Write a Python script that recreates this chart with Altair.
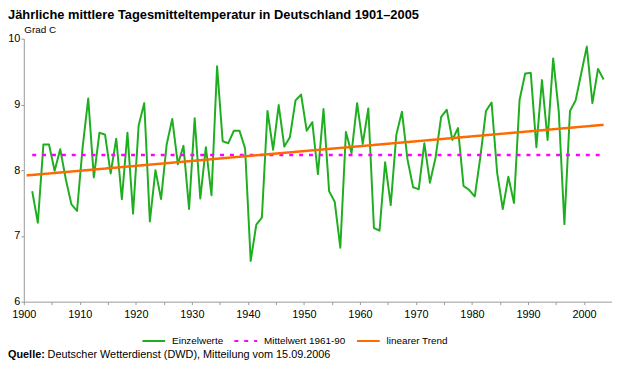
import altair as alt
import pandas as pd

TITLE = "Jährliche mittlere Tagesmitteltemperatur in Deutschland 1901–2005"
UNIT = "Grad C"
SOURCE_BOLD = "Quelle:"
SOURCE_TEXT = "Deutscher Wetterdienst (DWD), Mitteilung vom 15.09.2006"

SERIES = ["Einzelwerte", "Mittelwert 1961-90", "linearer Trend"]
COLORS = ["#1fae1f", "#ff00ff", "#ff6a00"]

YEARS = list(range(1901, 2004))
TEMPS = [
    7.68, 7.20, 8.39, 8.39, 7.99, 8.32, 7.86, 7.48, 7.38, 8.35,
    9.09, 7.89, 8.57, 8.54, 7.95, 8.48, 7.56, 8.57, 7.34, 8.68,
    9.02, 7.22, 8.00, 7.56, 8.39, 8.78, 8.09, 8.37, 7.41, 8.79,
    7.57, 8.35, 7.62, 9.58, 8.44, 8.41, 8.60, 8.60, 8.33, 6.62,
    7.17, 7.28, 8.90, 8.31, 8.99, 8.36, 8.50, 9.06, 9.15, 8.60,
    8.73, 7.94, 8.93, 7.68, 7.52, 6.82, 8.58, 8.26, 9.02, 8.40,
    8.94, 7.12, 7.08, 8.12, 7.47, 8.54, 8.89, 8.16, 7.74, 7.71,
    8.41, 7.81, 8.19, 8.81, 8.92, 8.46, 8.64, 7.76, 7.70, 7.60,
    8.20, 8.90, 9.03, 7.96, 7.41, 7.90, 7.50, 9.07, 9.47, 9.48,
    8.35, 9.37, 8.46, 9.70, 8.89, 7.18, 8.90, 9.06, 9.47, 9.88,
    9.02, 9.54, 9.38,
]

MEAN_YEARS = [1901, 2003]
MEAN_6190 = 8.23

TREND_YEARS = [1900, 2003]
TREND_TEMPS = [7.92, 8.69]

Y_TICKS = [6, 7, 8, 9, 10]
X_TICKS = list(range(1900, 2001, 5))

FONT = "Liberation Sans"

df_main = pd.DataFrame({"year": YEARS, "temp": TEMPS, "series": SERIES[0]})
df_mean = pd.DataFrame({"year": MEAN_YEARS, "temp": [MEAN_6190] * len(MEAN_YEARS), "series": SERIES[1]})
df_trend = pd.DataFrame({"year": TREND_YEARS, "temp": TREND_TEMPS, "series": SERIES[2]})

color_scale = alt.Scale(domain=SERIES, range=COLORS)
dash_scale = alt.Scale(domain=SERIES, range=[[1, 0], [4, 6], [1, 0]])

legend = alt.Legend(
    title=None,
    orient="none",
    legendX=119,
    legendY=293,
    direction="horizontal",
    symbolType="stroke",
    symbolSize=529,
    symbolStrokeWidth=2,
    labelFontSize=10,
    labelFont=FONT,
    labelColor="#000000",
    labelOffset=6,
    columnPadding=7,
    padding=0,
)

x_enc = alt.X(
    "xpos:Q",
    scale=alt.Scale(domain=[1900, 2005], nice=False, zero=False),
    axis=alt.Axis(
        values=X_TICKS,
        format="d",
        labelExpr="datum.value % 10 == 0 ? datum.label : ''",
        title=None,
        grid=False,
        tickSize=3,
        labelPadding=4,
        labelFlush=False,
    ),
)
y_enc = alt.Y(
    "temp:Q",
    scale=alt.Scale(domain=[6, 10], nice=False, zero=False),
    axis=alt.Axis(
        values=Y_TICKS,
        format="d",
        title=UNIT,
        titleAngle=0,
        titleX=0,
        titleY=-6,
        titleAlign="left",
        titleBaseline="alphabetic",
        titleFontSize=10,
        titleFontWeight="normal",
        titleFont=FONT,
        titleColor="#000000",
        grid=False,
        tickSize=3,
        labelPadding=1,
    ),
)


def line_layer(df, width):
    return (
        alt.Chart(df)
        .transform_calculate(xpos="datum.year + 0.5")
        .mark_line(strokeWidth=width, strokeJoin="round")
        .encode(
            x=x_enc,
            y=y_enc,
            color=alt.Color("series:N", scale=color_scale, legend=legend),
            strokeDash=alt.StrokeDash("series:N", scale=dash_scale, legend=legend),
        )
    )


main = line_layer(df_main, 2)
mean = line_layer(df_mean, 2.5)
trend = line_layer(df_trend, 2.5)

title_text = alt.Chart(pd.DataFrame({"t": [TITLE]})).mark_text(
    align="left", baseline="alphabetic", fontSize=13, fontWeight="bold", font=FONT, color="#000000"
).encode(x=alt.value(-16), y=alt.value(-20), text="t:N")

src_bold = alt.Chart(pd.DataFrame({"t": [SOURCE_BOLD]})).mark_text(
    align="left", baseline="alphabetic", fontSize=11, fontWeight="bold", font=FONT, color="#000000"
).encode(x=alt.value(-16), y=alt.value(323), text="t:N")

src_text = alt.Chart(pd.DataFrame({"t": [SOURCE_TEXT]})).mark_text(
    align="left", baseline="alphabetic", fontSize=11, font=FONT, color="#000000"
).encode(x=alt.value(24), y=alt.value(323), text="t:N")

chart = (
    alt.layer(main, mean, trend, title_text, src_bold, src_text)
    .resolve_scale(color="shared", strokeDash="shared")
    .properties(
        width=595,
        height=266,
        autosize=alt.AutoSizeParams(type="none"),
        padding={"left": 16, "top": 29, "right": 0, "bottom": 60},
        background="#ffffff",
    )
    .configure_view(strokeWidth=0)
    .configure_axis(
        domainColor="#999999",
        tickColor="#999999",
        labelColor="#000000",
        labelFont=FONT,
        labelFontSize=11,
    )
)

chart.save("out.html", embed_options={"renderer": "svg", "actions": False})
